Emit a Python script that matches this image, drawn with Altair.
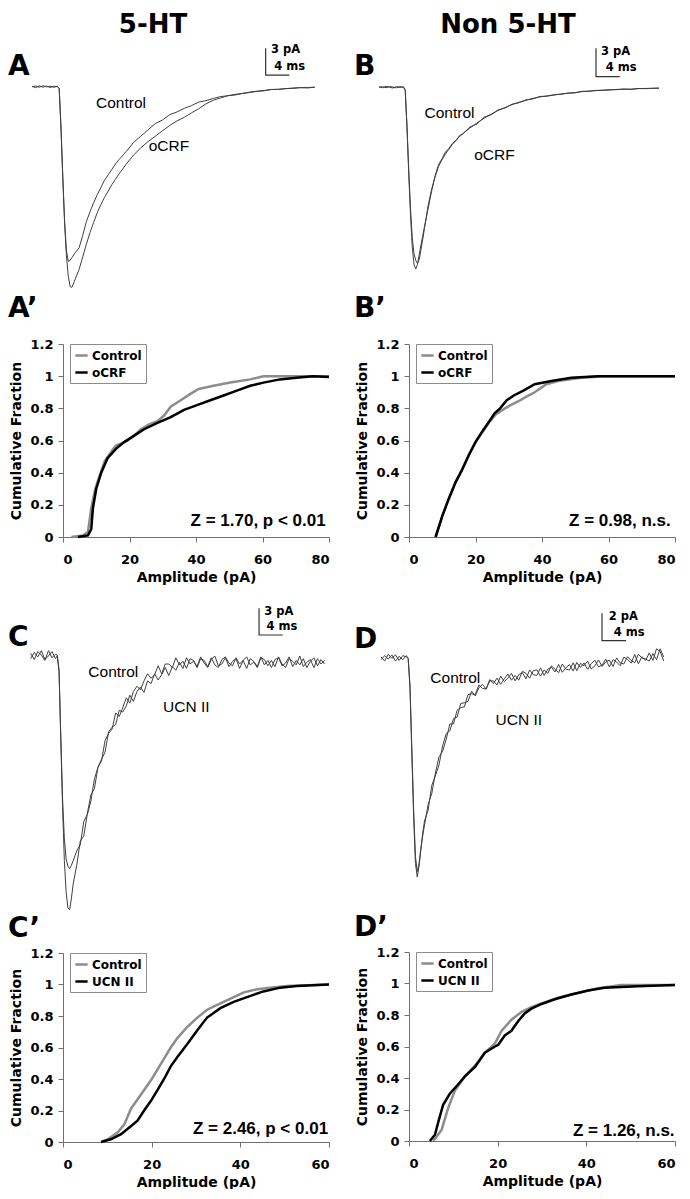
import altair as alt
import pandas as pd

BOLD_FONT = "DejaVu Sans"
TXT_FONT = "Liberation Sans"

# ---------------- averaged current traces (ms, pA) ----------------
TA = [0, 0.5, 1, 1.5, 2, 2.5, 3, 3.5, 3.75, 4, 4.25, 4.5, 4.75, 5, 5.25, 5.5, 5.75, 6,
      6.5, 7, 7.5, 8, 8.5, 9, 9.5, 10, 10.5, 11, 11.5, 12,
      13, 14, 15, 16, 17, 18, 19, 20, 21, 22, 23, 24, 25, 26, 27, 28, 29, 30, 31, 32,
      33, 34, 35, 36, 37, 38, 39]
A_CONTROL = [0.05, -0.1, 0.1, -0.05, 0.08, -0.08, 0.05, 0.0,
             -0.2, -4.5, -10.0, -15.0, -18.2, -19.4, -19.3, -19.0, -18.7, -18.4,
             -17.9, -16.5, -15.0, -13.9, -12.9, -12.0, -11.2, -10.4, -9.8, -9.2, -8.6, -8.1,
             -7.2, -6.2, -5.5, -4.8, -4.1, -3.7, -3.1, -2.8, -2.4, -2.1, -1.7, -1.55, -1.3,
             -1.1, -1.0, -0.85, -0.75, -0.6, -0.5, -0.42, -0.3, -0.3, -0.2, -0.18, -0.08,
             -0.14, -0.05]
A_OCRF = [0.0, 0.08, -0.05, 0.1, -0.02, 0.06, -0.06, 0.05,
          -0.2, -4.6, -10.2, -15.2, -18.8, -21.0, -22.2, -22.3, -21.8, -21.3,
          -20.3, -18.9, -17.5, -16.2, -15.1, -14.0, -13.1, -12.3, -11.6, -10.9, -10.3, -9.7,
          -8.6, -7.6, -6.8, -6.1, -5.5, -4.9, -4.3, -3.8, -3.4, -2.9, -2.45, -1.9, -1.5,
          -1.25, -1.0, -0.92, -0.75, -0.65, -0.52, -0.45, -0.32, -0.28, -0.22, -0.15,
          -0.12, -0.08, -0.06]

TB = [0, 0.5, 1, 1.5, 2, 2.5, 3, 3.5, 3.75, 4, 4.25, 4.5, 4.75, 5, 5.25, 5.5, 5.75, 6,
      6.5, 7, 7.5, 8, 8.5, 9, 9.5, 10, 10.5, 11, 11.5, 12,
      13, 14, 15, 16, 17, 18, 19, 20, 21, 22, 23, 24, 25, 26, 27, 28, 29, 30, 31, 32,
      33, 34, 35, 36, 37, 38, 39, 40]
B_CONTROL = [0.05, -0.05, 0.1, 0.0, -0.08, 0.06, 0.0, 0.05,
             -0.3, -4.0, -8.5, -12.5, -15.5, -17.2, -17.9, -18.2, -17.8, -16.8,
             -14.6, -12.3, -10.6, -9.3, -8.2, -7.5, -6.9, -6.4, -5.9, -5.5, -5.1, -4.8,
             -4.2, -3.7, -3.2, -2.8, -2.4, -2.1, -1.8, -1.55, -1.35, -1.15, -1.0, -0.9,
             -0.8, -0.7, -0.62, -0.55, -0.45, -0.4, -0.35, -0.3, -0.28, -0.22, -0.2, -0.2,
             -0.15, -0.12, -0.12, -0.08]
B_OCRF = [0.0, 0.06, -0.05, 0.08, 0.02, -0.06, 0.05, -0.02,
          -0.3, -4.2, -9.0, -13.2, -16.5, -18.3, -18.8, -18.3, -17.3, -16.3,
          -14.4, -12.6, -10.8, -9.2, -8.0, -7.4, -6.7, -6.3, -5.8, -5.5, -5.0, -4.8,
          -4.1, -3.8, -3.1, -2.85, -2.35, -2.15, -1.75, -1.6, -1.3, -1.2, -0.95, -0.92,
          -0.78, -0.72, -0.6, -0.58, -0.42, -0.42, -0.32, -0.32, -0.25, -0.25, -0.18,
          -0.22, -0.12, -0.15, -0.1, -0.1]

TC = [0, 0.5, 1, 1.5, 2, 2.5, 3, 3.5, 3.75, 4, 4.25, 4.5, 4.75, 5, 5.25, 5.5, 5.75, 6,
      6.5, 7, 7.5, 8, 8.5, 9, 9.5, 10, 10.5, 11, 11.5, 12, 12.5, 13, 13.5, 14, 14.5, 15,
      15.5, 16, 16.5, 17, 17.5, 18, 18.5, 19, 19.5, 20, 20.5, 21, 21.5, 22, 22.5, 23,
      23.5, 24, 24.5, 25, 25.5, 26, 26.5, 27, 27.5, 28, 28.5, 29, 29.5, 30, 30.5, 31,
      31.5, 32, 32.5, 33, 33.5, 34, 34.5, 35, 35.5, 36, 36.5, 37, 37.5, 38, 38.5, 39,
      39.5, 40, 40.5, 41, 41.5]
C_CONTROL = [0.3, -0.4, 0.5, 0.1, -0.5, 0.6, -0.2, 0.2,
             0.1, -1.5, -9.0, -16.0, -20.5, -22.8, -23.6, -23.9, -23.5, -23.0,
             -21.9, -21.2, -18.6, -17.8, -16.3, -13.8, -12.5, -11.8, -9.5, -8.7, -8.2, -6.4,
             -6.8, -5.8, -4.7, -5.3, -4.0, -3.4, -3.8, -2.8, -2.0, -2.5, -2.1, -1.1, -2.0,
             -0.9, -0.9, -1.3,
             -0.2, -1.0, -0.6, -1.4, -0.3, -0.5, -1.2, -0.1, -0.8, -1.3,
             -0.4, 0.0, -1.1, -0.9, -0.2, -1.2, -0.6, -0.3, -1.4, -0.5,
             -0.1, -1.0, -0.7, -1.3, -0.2, -0.4, -1.1, -0.5, -1.2, -0.1,
             -0.9, -1.3, -0.3, -0.6, -1.0, 0.0, -1.2, -0.7, -0.4, -1.3,
             -0.3, -0.9, -0.5]
C_UCN = [-0.3, 0.4, -0.1, 0.6, -0.4, 0.0, 0.5, -0.3,
         0.0, -1.8, -9.5, -17.0, -23.0, -26.5, -28.3, -28.5, -27.2, -25.6,
         -23.5, -20.8, -20.2, -17.7, -15.6, -14.9, -12.5, -11.6, -10.8, -8.5, -8.0, -7.7,
         -6.1, -6.3, -5.6, -4.4, -5.1, -4.0, -3.5, -4.1, -2.8, -3.1, -2.0, -2.7, -2.1,
         -1.3, -2.2, -1.2,
         -1.6, -0.7, -1.4, -0.2,
         -0.9, -0.6, -1.3, -0.3, -0.5, -1.2, -0.2, -1.0, -1.3, -0.4,
         -0.1, -0.8, -1.1, -0.2, -0.9, -0.5, -1.4, -0.3, -0.6, -1.2,
         -0.1, -1.0, -0.5, -1.3, -0.4, -0.2, -1.1, -0.8, -0.1, -1.2,
         -0.5, -1.0, -0.3, -1.3, -0.6, -0.2, -1.1, -0.4, -0.9]

TD = [0, 0.5, 1, 1.5, 2, 2.5, 3, 3.5, 3.75, 4, 4.25, 4.5, 4.75, 5, 5.25, 5.5, 5.75, 6,
      6.5, 7, 7.5, 8, 8.5, 9, 9.5, 10, 10.5, 11, 11.5, 12, 12.5, 13, 13.5, 14, 14.5, 15,
      15.5, 16, 16.5, 17, 17.5, 18, 18.5, 19, 19.5, 20, 20.5, 21, 21.5, 22, 22.5, 23,
      23.5, 24, 24.5, 25, 25.5, 26, 26.5, 27, 27.5, 28, 28.5, 29, 29.5, 30, 30.5, 31,
      31.5, 32, 32.5, 33, 33.5, 34, 34.5, 35, 35.5, 36, 36.5, 37, 37.5, 38, 38.5, 39]
D_CONTROL = [0.1, -0.2, 0.3, 0.0, 0.25, -0.15, 0.2, 0.1,
             0.0, -2.0, -6.5, -11.0, -14.5, -15.6, -15.0, -13.9, -13.0, -12.2,
             -10.7, -9.9, -8.4, -7.2, -6.8, -5.9, -4.8, -4.8, -3.8, -3.6, -3.55, -2.65,
             -2.6, -2.65, -1.95, -2.2, -2.25, -1.65, -1.65, -1.95, -1.3, -1.7, -1.45, -1.1,
             -1.65, -1.2, -1.05, -1.5, -0.85, -1.2, -1.25, -0.7, -1.25, -0.8, -0.65, -1.0,
             -0.45, -1.02, -0.69, -0.46, -0.93, -0.3, -0.67, -0.34, -0.81, -0.38, -0.15,
             -0.62, -0.49, -0.06, -0.63, -0.1, -0.27, -0.54, 0.09, -0.08, -0.35, 0.28,
             -0.4, 0.12, -0.15, 0.4, -0.15, 0.7, 0.5, -0.2]
D_UCN = [-0.1, 0.2, -0.05, 0.25, -0.2, 0.15, -0.1, 0.2,
         0.0, -2.2, -7.0, -11.6, -15.0, -16.0, -15.2, -14.0, -12.8, -11.9,
         -11.1, -9.3, -8.6, -7.8, -6.4, -5.5, -5.3, -4.4, -4.3, -3.3, -3.25, -3.15,
         -2.4, -2.75, -2.15, -1.9, -2.25, -1.55, -1.85, -1.45, -1.9, -1.5, -1.15, -1.6,
         -1.25, -1.6, -0.95, -1.1, -1.45, -0.9, -0.85, -1.3, -0.85, -1.1, -0.55, -0.8,
         -1.05, -0.42, -0.79, -0.86, -0.33, -0.9, -0.37, -0.54, -0.21, -0.78, -0.55,
         -0.12, -0.59, -0.26, -0.13, -0.6, 0.03, -0.34, -0.41, 0.12, -0.15, -0.32,
         0.3, 0.02, -0.05, -0.2, 0.35, -0.1, 0.7, 0.1]

# scale bars: time of vertical bar, time of bar end, top and bottom current
SB_A = [32.23, 35.5, 4.27, 1.3]
SB_B = [31.0, 34.4, 4.03, 1.1]
SB_C = [32.25, 35.6, 5.36, 2.36]
SB_D = [30.48, 33.8, 3.29, 1.29]
SB_TEXT_A = [("3 pA", 32.97, 4.08), ("4 ms", 33.4, 2.22)]
SB_TEXT_B = [("3 pA", 31.7, 3.68), ("4 ms", 32.4, 1.96)]
SB_TEXT_C = [("3 pA", 33.0, 4.98), ("4 ms", 33.3, 3.29)]
SB_TEXT_D = [("2 pA", 31.4, 3.04), ("4 ms", 32.1, 1.83)]
LBL_A = [("Control", 8.83, -1.78), ("oCRF", 16.1, -6.6)]
LBL_B = [("Control", 6.5, -2.69), ("oCRF", 13.6, -7.0)]
LBL_C = [("Control", 8.14, -1.76), ("UCN II", 18.7, -5.7)]
LBL_D = [("Control", 6.8, -1.46), ("UCN II", 15.8, -4.5)]

# ---------------- cumulative amplitude distributions ----------------
AP_CTL_X = [2.5, 6, 7.5, 8.5, 9.7, 11, 12.5, 15.2, 16, 17.4, 19.4, 21.4, 23.4, 25.9, 28.4,
            30.4, 32.4, 35.4, 38.3, 40.8, 45.3, 50.3, 56.3, 60.3, 80]
AP_CTL_Y = [0, 0.01, 0.03, 0.18, 0.30, 0.38, 0.47, 0.55, 0.57, 0.58, 0.60, 0.63, 0.67, 0.70,
            0.72, 0.755, 0.81, 0.85, 0.89, 0.92, 0.94, 0.96, 0.98, 1.0, 1.0]
AP_OCRF_X = [4.5, 7.5, 8.5, 9, 10, 11.5, 13.4, 16, 18.4, 21.4, 24.4, 28.4, 32.4, 36.4, 40.3,
             44.3, 48.3, 52.3, 56.3, 60.3, 65.2, 70.2, 75.2, 80]
AP_OCRF_Y = [0, 0.01, 0.05, 0.18, 0.30, 0.40, 0.49, 0.55, 0.59, 0.63, 0.67, 0.71, 0.745, 0.79,
             0.82, 0.85, 0.88, 0.91, 0.94, 0.96, 0.98, 0.99, 1.0, 0.995]

BP_CTL_X = [8, 10, 12, 14, 16, 18, 20, 22, 24, 26, 28.9, 31, 33.4, 35.5, 37.8, 41.3, 44.8,
            51.8, 58.8, 80]
BP_CTL_Y = [0, 0.13, 0.24, 0.34, 0.42, 0.51, 0.59, 0.65, 0.71, 0.76, 0.80, 0.825, 0.85, 0.875,
            0.90, 0.95, 0.97, 0.99, 1.0, 1.0]
BP_OCRF_X = [8, 10, 12, 14, 16, 18, 20, 22, 24, 25.8, 27.4, 29.4, 31.5, 34.4, 37.8, 42.8,
             48.8, 56.8, 80]
BP_OCRF_Y = [0, 0.13, 0.24, 0.34, 0.42, 0.51, 0.59, 0.655, 0.715, 0.77, 0.80, 0.85, 0.88, 0.91,
             0.95, 0.97, 0.99, 1.0, 1.0]

CP_CTL_X = [8.6, 10.1, 12.3, 13.8, 15.3, 16.8, 18.3, 19.8, 21.3, 22.8, 24.3, 25.8, 28.0, 30.3,
            32.5, 35.5, 38.5, 40.8, 43.8, 46.7, 50.5, 60]
CP_CTL_Y = [0, 0.017, 0.06, 0.11, 0.21, 0.27, 0.33, 0.39, 0.46, 0.53, 0.60, 0.66, 0.73, 0.79,
            0.84, 0.88, 0.92, 0.95, 0.97, 0.98, 0.99, 1.0]
CP_UCN_X = [8.6, 10.8, 13.1, 15.3, 16.8, 18.3, 19.8, 21.3, 22.8, 24.3, 25.8, 28.0, 30.3, 32.5,
            35.5, 38.5, 41.5, 45.2, 49, 52.7, 60]
CP_UCN_Y = [0, 0.017, 0.05, 0.10, 0.135, 0.2, 0.26, 0.33, 0.40, 0.48, 0.54, 0.62, 0.71, 0.79,
            0.85, 0.89, 0.92, 0.956, 0.98, 0.99, 1.0]

DP_CTL_X = [5.5, 7.35, 8.85, 10.35, 12.6, 14.9, 17.1, 19.4, 20.9, 23.1, 25.4, 27.6, 30.6,
            33.6, 38.1, 42.6, 47.9, 60]
DP_CTL_Y = [0, 0.07, 0.21, 0.32, 0.41, 0.48, 0.56, 0.62, 0.70, 0.77, 0.82, 0.85, 0.88, 0.91,
            0.94, 0.97, 0.99, 0.99]
DP_UCN_X = [4.7, 5.85, 6.6, 7.7, 9.2, 11.1, 12.6, 14.9, 17.1, 19.4, 20.1, 21.6, 23.1, 24.6,
            26.1, 27.6, 29.9, 32.9, 36.6, 40.4, 44.1, 51.6, 60]
DP_UCN_Y = [0, 0.04, 0.12, 0.23, 0.30, 0.36, 0.41, 0.47, 0.56, 0.60, 0.61, 0.67, 0.70, 0.76,
            0.81, 0.84, 0.87, 0.90, 0.93, 0.956, 0.973, 0.983, 0.99]

Z_A = ("Z = 1.70, p < 0.01", 79.0, 0.1)
Z_B = ("Z = 0.98, n.s.", 78.7, 0.1)
Z_C = ("Z = 2.46, p < 0.01", 59.8, 0.083)
Z_D = ("Z = 1.26, n.s.", 59.9, 0.062)

Y_TICKS = [0, 0.2, 0.4, 0.6, 0.8, 1, 1.2]

PANEL_W = 266
H_TRACE1, H_CUM1, H_TRACE2, H_CUM2 = 250, 193, 324, 189


def text_layer(txt, x, y, align="left", baseline="top", size=28, weight="bold",
               font=BOLD_FONT):
    return alt.Chart(pd.DataFrame({"s": [txt]})).mark_text(
        align=align, baseline=baseline, font=font, fontSize=size, fontWeight=weight,
        color="black").encode(x=alt.value(x), y=alt.value(y), text="s:N")


def trace_panel(t, ya, yb, xdom, ydom, height, sbar, sbtext, labels, letter, letter_y,
                header=None, header_x=0):
    df = pd.DataFrame({"t": list(t) * 2, "v": list(ya) + list(yb),
                       "series": ["a"] * len(t) + ["b"] * len(t)})
    xs = alt.Scale(domain=xdom, nice=False, zero=False)
    ys = alt.Scale(domain=ydom, nice=False, zero=False)
    X = alt.X("t:Q", scale=xs, axis=None)
    Y = alt.Y("v:Q", scale=ys, axis=None)
    lines = alt.Chart(df).mark_line(color="#404040", strokeWidth=1).encode(
        x=X, y=Y, detail="series:N")
    bar_df = pd.DataFrame({"t": [sbar[0], sbar[0], sbar[1]],
                           "v": [sbar[2], sbar[3], sbar[3]], "o": [0, 1, 2]})
    bar = alt.Chart(bar_df).mark_line(color="#333333", strokeWidth=1.2).encode(
        x=X, y=Y, order="o:Q")
    sbt = alt.Chart(pd.DataFrame(sbtext, columns=["s", "t", "v"])).mark_text(
        align="left", baseline="middle", font=BOLD_FONT, fontSize=11.5, fontWeight="bold",
        color="black").encode(x=X, y=Y, text="s:N")
    lbl = alt.Chart(pd.DataFrame(labels, columns=["s", "t", "v"])).mark_text(
        align="left", baseline="middle", font=TXT_FONT, fontSize=15.5,
        color="black").encode(x=X, y=Y, text="s:N")
    layers = [lines, bar, sbt, lbl, text_layer(letter, -55, letter_y)]
    if header:
        layers.append(text_layer(header, header_x, -30, align="center", size=26))
    return alt.layer(*layers).properties(width=PANEL_W, height=height)


def cum_panel(cx, cy, tx, ty, tname, xmax, xticks, ztext, height, letter, letter_y):
    xs = alt.Scale(domain=[0, xmax], nice=False)
    ys = alt.Scale(domain=[0, 1.2], nice=False)
    X = alt.X("amp:Q", scale=xs, axis=alt.Axis(
        values=xticks, title="Amplitude (pA)", labelPadding=11, titlePadding=4,
        labelOverlap=False))
    Y = alt.Y("frac:Q", scale=ys, axis=alt.Axis(
        values=Y_TICKS, format="~g", title="Cumulative Fraction",
        labelPadding=5, titlePadding=6, labelOverlap=False, labelSeparation=0))
    color = alt.Color("series:N", scale=alt.Scale(domain=["Control", tname],
                                                  range=["#8c8c8c", "#000000"]),
                      legend=alt.Legend(title=None, orient="none", legendX=7, legendY=0,
                                        direction="vertical", padding=4,
                                        strokeColor="#8c8c8c", fillColor="white",
                                        labelFont=BOLD_FONT, labelFontSize=12,
                                        labelFontWeight="bold", labelColor="black",
                                        symbolType="stroke", symbolStrokeWidth=2.5,
                                        symbolSize=150, rowPadding=3, labelOffset=3))
    dc = pd.DataFrame({"amp": cx, "frac": cy, "series": "Control"})
    dt = pd.DataFrame({"amp": tx, "frac": ty, "series": tname})
    gray = alt.Chart(dc).mark_line(strokeWidth=2.5).encode(x=X, y=Y, color=color)
    black = alt.Chart(dt).mark_line(strokeWidth=2.5).encode(x=X, y=Y, color=color)
    z = alt.Chart(pd.DataFrame({"s": [ztext[0]], "amp": [ztext[1]], "frac": [ztext[2]]})
                  ).mark_text(align="right", baseline="middle", font=TXT_FONT, fontSize=17,
                              fontWeight="bold", color="black").encode(
        x=X, y=Y, text="s:N")
    return alt.layer(gray, black, z, text_layer(letter, -55, letter_y)).properties(
        width=PANEL_W, height=height)


A = trace_panel(TA, A_CONTROL, A_OCRF, [4.276, 40.966], [-22.81, 4.97], H_TRACE1,
                SB_A, SB_TEXT_A, LBL_A, "A", 11, header="5-HT", header_x=90)
B = trace_panel(TB, B_CONTROL, B_OCRF, [4.286, 42.286], [-21.17, 4.68], H_TRACE1,
                SB_B, SB_TEXT_B, LBL_B, "B", 11, header="Non 5-HT", header_x=99)
C = trace_panel(TC, C_CONTROL, C_UCN, [4.56, 42.13], [-28.65, 7.75], H_TRACE2,
                SB_C, SB_TEXT_C, LBL_C, "C", 37)
D = trace_panel(TD, D_CONTROL, D_UCN, [3.86, 40.55], [-18.49, 5.22], H_TRACE2,
                SB_D, SB_TEXT_D, LBL_D, "D", 39)

Ap = cum_panel(AP_CTL_X, AP_CTL_Y, AP_OCRF_X, AP_OCRF_Y, "oCRF", 80, [0, 20, 40, 60, 80],
               Z_A, H_CUM1, "A\u2019", -49)
Bp = cum_panel(BP_CTL_X, BP_CTL_Y, BP_OCRF_X, BP_OCRF_Y, "oCRF", 80, [0, 20, 40, 60, 80],
               Z_B, H_CUM1, "B\u2019", -49)
Cp = cum_panel(CP_CTL_X, CP_CTL_Y, CP_UCN_X, CP_UCN_Y, "UCN II", 60, [0, 20, 40, 60],
               Z_C, H_CUM2, "C\u2019", -38)
Dp = cum_panel(DP_CTL_X, DP_CTL_Y, DP_UCN_X, DP_UCN_Y, "UCN II", 60, [0, 20, 40, 60],
               Z_D, H_CUM2, "D\u2019", -38)

col1 = alt.vconcat(A, Ap, C, Cp, spacing=3).resolve_scale(color="independent")
col2 = alt.vconcat(B, Bp, D, Dp, spacing=3).resolve_scale(color="independent")

chart = alt.hconcat(col1, col2, spacing=20).resolve_scale(color="independent").properties(
    padding={"top": 4, "left": 0, "right": 0, "bottom": 0}
).configure_view(stroke=None).configure_axis(
    grid=False, domainColor="#707070", tickColor="#707070", labelColor="black",
    titleColor="black", labelFont=BOLD_FONT, titleFont=BOLD_FONT, labelFontWeight="bold",
    titleFontWeight="bold", labelFontSize=13, titleFontSize=14, tickSize=5,
    labelOverlap=False
)

chart.save("out.html", embed_options={"renderer": "svg", "actions": False})
